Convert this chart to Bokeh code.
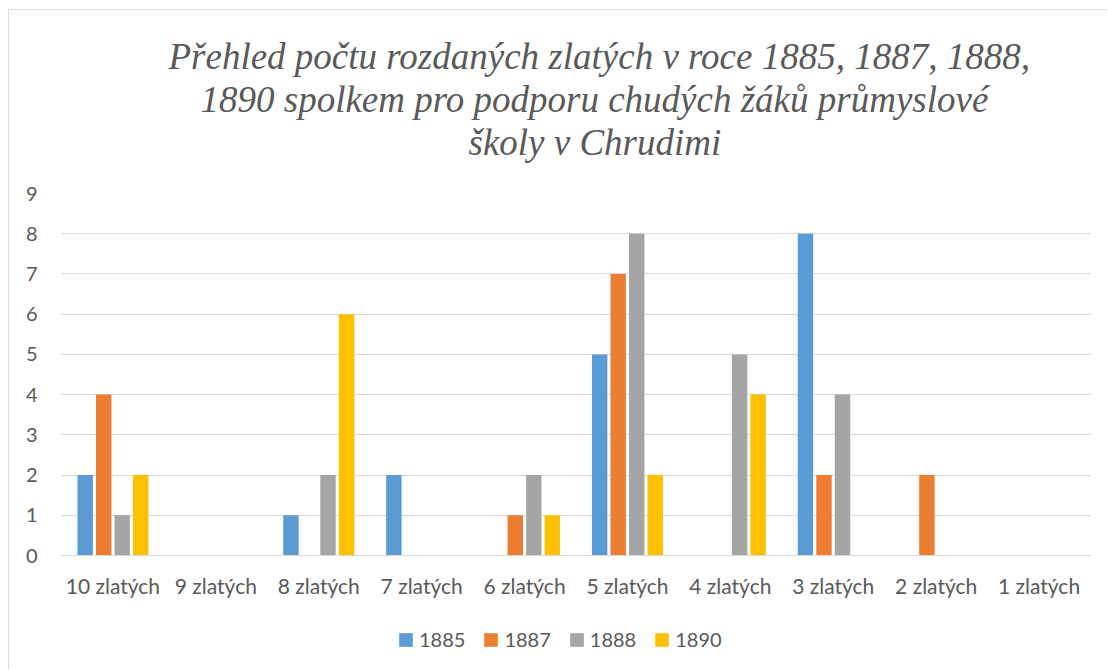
from bokeh.plotting import figure
from bokeh.layouts import column
from bokeh.models import ColumnDataSource, FactorRange, Range1d, Legend, LegendItem, Title, FixedTicker
from bokeh.transform import dodge
from bokeh.embed import file_html
from bokeh.resources import INLINE

categories = ["10 zlatých", "9 zlatých", "8 zlatých", "7 zlatých", "6 zlatých",
              "5 zlatých", "4 zlatých", "3 zlatých", "2 zlatých", "1 zlatých"]
years = ["1885", "1887", "1888", "1890"]
v1885 = [2, 0, 1, 2, 0, 5, 0, 8, 0, 0]
v1887 = [4, 0, 0, 0, 1, 7, 0, 2, 2, 0]
v1888 = [1, 0, 2, 0, 2, 8, 5, 4, 0, 0]
v1890 = [2, 0, 6, 0, 1, 2, 4, 0, 0, 0]
colors = ["#5b9bd5", "#ed7d31", "#a5a5a5", "#ffc000"]
title_lines = ["Přehled počtu rozdaných zlatých v roce 1885, 1887, 1888,",
               "1890  spolkem pro podporu chudých žáků průmyslové",
               "školy  v Chrudimi"]
title_offsets = [107, 139, 407]

source = ColumnDataSource(data=dict(cat=categories, y1885=v1885, y1887=v1887,
                                    y1888=v1888, y1890=v1890))

p = figure(x_range=FactorRange(*categories, range_padding=0), y_range=Range1d(0, 9),
           frame_width=1029, frame_height=362, output_backend="svg", toolbar_location=None,
           min_border_left=52, min_border_right=17, min_border_top=183, min_border_bottom=45)

p.title = None
# spacer between the frame and the title block
p.add_layout(Title(text=" ", text_font_size="1px", standoff=28), "above")
for line, off in reversed(list(zip(title_lines, title_offsets))):
    t = Title(text=line, align="left", vertical_align="bottom", text_font="Liberation Serif",
              text_font_style="italic", text_font_size="37px", text_color="#595959",
              standoff=0, offset=off)
    p.add_layout(t, "above")

offsets = [-0.27, -0.09, 0.09, 0.27]
cols = ["y1885", "y1887", "y1888", "y1890"]
for col, off, c in zip(cols, offsets, colors):
    p.vbar(x=dodge("cat", off, range=p.x_range), top=col, width=0.15, source=source,
           fill_color=c, line_color=None)

p.yaxis.ticker = FixedTicker(ticks=list(range(0, 10)))
p.ygrid.grid_line_color = "#d9d9d9"
p.ygrid.grid_line_width = 1
p.xgrid.grid_line_color = None
p.yaxis.axis_line_color = None
p.yaxis.major_tick_line_color = None
p.yaxis.minor_tick_line_color = None
p.xaxis.axis_line_color = "#d9d9d9"
p.xaxis.major_tick_line_color = None
p.xaxis.minor_tick_line_color = None
for ax in (p.xaxis, p.yaxis):
    ax.major_label_text_font = "Lato"
    ax.major_label_text_color = "#595959"
p.yaxis.major_label_text_font_size = "20px"
p.xaxis.major_label_text_font_size = "21px"
p.yaxis.major_label_standoff = 18
p.xaxis.major_label_standoff = 11
p.outline_line_color = None

# legend strip below the chart (area glyphs give square legend swatches)
lg = figure(x_range=FactorRange(*categories), y_range=Range1d(100, 101),
            width=1098, height=69, output_backend="svg", toolbar_location=None,
            min_border_left=0, min_border_right=0, min_border_top=0, min_border_bottom=0)
lg.axis.visible = False
lg.grid.grid_line_color = None
lg.outline_line_color = None
lg_items = []
for col, off, c, yr in zip(cols, offsets, colors, years):
    r = lg.varea(x=dodge("cat", off, range=lg.x_range), y1=0, y2=col, source=source,
                 fill_color=c)
    lg_items.append(LegendItem(label=yr, renderers=[r]))
legend = Legend(items=lg_items, orientation="horizontal", location=(336, 18),
                glyph_width=17, glyph_height=17, label_standoff=5, spacing=17,
                label_text_font="Lato", label_text_font_size="20px",
                label_text_color="#595959", border_line_color=None,
                background_fill_alpha=0, margin=0, padding=5)
lg.add_layout(legend, "center")

layout = column(p, lg, spacing=0)
layout.styles = {"border-top": "1px solid #d9d9d9", "border-left": "1px solid #d9d9d9",
                 "margin-left": "8px", "margin-top": "9px"}

open("out.html", "w").write(file_html(layout, INLINE))
